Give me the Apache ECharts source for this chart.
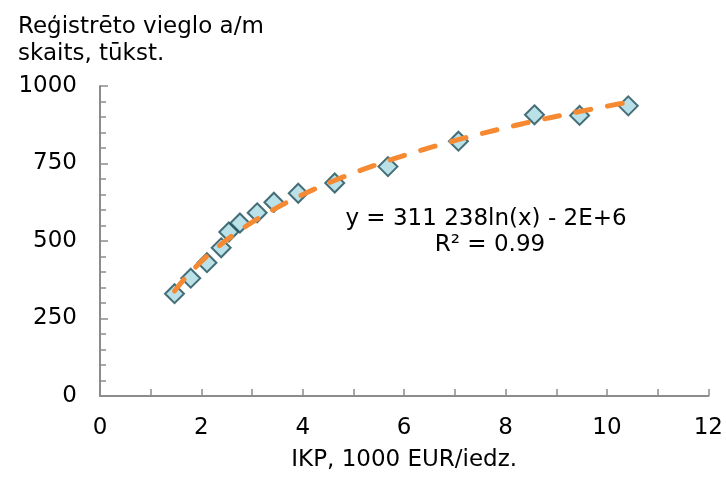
<!DOCTYPE html>
<html>
<head>
<meta charset="utf-8">
<script src="https://cdn.jsdelivr.net/npm/echarts@6/dist/echarts.min.js"></script>
<style>html,body{margin:0;padding:0;background:#fff}#c{width:726px;height:477px}</style>
</head>
<body>
<div id="c"></div>
<script>
// GDP per capita, thousand EUR
var gdpValues = [1.47, 1.79, 2.11, 2.39, 2.54, 2.76, 3.10, 3.43, 3.91, 4.63, 5.68, 7.07, 8.57, 9.46, 10.42];
// Registered passenger cars, thousands
var carValues = [330, 380, 430, 478, 529, 558, 591, 625, 654, 687, 740, 822, 907, 905, 936];
var xTicks = [0, 2, 4, 6, 8, 10, 12];
var yTicks = [0, 250, 500, 750, 1000];
var yTitle = 'Reģistrēto vieglo a/m\nskaits, tūkst.';
var xTitle = 'IKP, 1000 EUR/iedz.';
var eqText = 'y = 311 238ln(x) - 2E+6';
var r2Text = 'R² = 0.99';

var pts = gdpValues.map(function (v, i) { return [v, carValues[i]]; });

// logarithmic least-squares trend (as the spreadsheet trendline)
var n = pts.length, sl = 0, sy = 0, sll = 0, sly = 0;
pts.forEach(function (p) { var l = Math.log(p[0]); sl += l; sy += p[1]; sll += l * l; sly += l * p[1]; });
var a = (n * sly - sl * sy) / (n * sll - sl * sl);
var b = (sy - a * sl) / n;
var xmin = Math.min.apply(null, gdpValues), xmax = Math.max.apply(null, gdpValues);
var trend = [];
for (var k = 0; k <= 80; k++) { var x = xmin + (xmax - xmin) * k / 80; trend.push([x, a * Math.log(x) + b]); }

var font = 'DejaVu Sans';
var axisCol = '#8c8c8c';
var chart = echarts.init(document.getElementById('c'));
chart.setOption({
  animation: false,
  textStyle: { fontFamily: font },
  title: {
    text: yTitle, left: 13, top: 9,
    textStyle: { fontFamily: font, fontSize: 23, fontWeight: 'normal', color: '#000', lineHeight: 27 }
  },
  grid: { left: 100, right: 16, top: 86, bottom: 78 },
  xAxis: {
    type: 'value', min: xTicks[0], max: xTicks[xTicks.length - 1], interval: 2,
    name: xTitle, nameLocation: 'middle', nameGap: 53,
    nameTextStyle: { fontFamily: font, fontSize: 23, color: '#000' },
    axisLine: { show: true, lineStyle: { color: axisCol, width: 2 } },
    axisTick: { show: true, inside: true, length: 7, lineStyle: { color: axisCol, width: 1.5 } },
    minorTick: { show: true, splitNumber: 2, length: 7, lineStyle: { color: axisCol, width: 1.5 } },
    splitLine: { show: false },
    axisLabel: { fontFamily: font, fontSize: 23, color: '#000', margin: 21 }
  },
  yAxis: {
    type: 'value', min: yTicks[0], max: yTicks[yTicks.length - 1], interval: 250,
    axisLine: { show: true, lineStyle: { color: axisCol, width: 2 } },
    axisTick: { show: true, inside: true, length: 8, lineStyle: { color: axisCol, width: 1.5 } },
    minorTick: { show: true, splitNumber: 5, length: 6, lineStyle: { color: axisCol, width: 1.5 } },
    splitLine: { show: false },
    axisLabel: { fontFamily: font, fontSize: 23, color: '#000', margin: 23, formatter: function (v) { return String(v); } }
  },
  series: [
    {
      type: 'line', data: trend, showSymbol: false, symbol: 'none', smooth: false, z: 3,
      lineStyle: { color: '#F58A33', width: 5, type: [15, 17], cap: 'round' }
    },
    {
      type: 'scatter', data: pts, symbol: 'diamond', symbolSize: 19, z: 2,
      itemStyle: { color: '#A9D8E2', borderColor: '#1E4D59', borderWidth: 2 }
    }
  ],
  graphic: [
    { type: 'text', x: 486, y: 219, style: { text: eqText, font: '23px "DejaVu Sans"', fill: '#000', align: 'center', verticalAlign: 'middle' } },
    { type: 'text', x: 490, y: 245, style: { text: r2Text, font: '23px "DejaVu Sans"', fill: '#000', align: 'center', verticalAlign: 'middle' } }
  ]
});
</script>
</body>
</html>
